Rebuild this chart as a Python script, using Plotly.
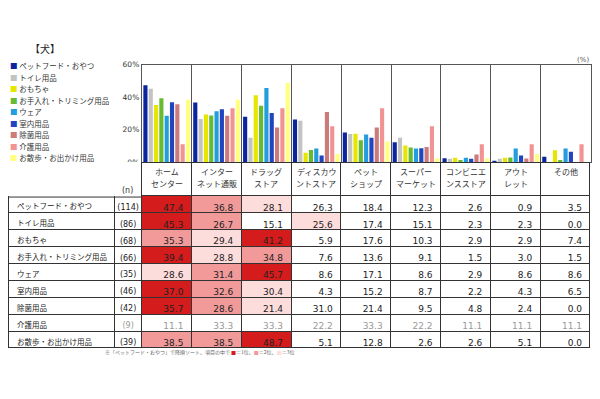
import plotly.graph_objects as go

# the page body has an 8px margin, so the figure is drawn 8px in from the window corner
OFF = 8
W, H = 584, 383

title_text = "【犬】"
channels = ["ホームセンター", "インターネット通販", "ドラッグストア", "ディスカウントストア",
            "ペットショップ", "スーパーマーケット", "コンビニエンスストア", "アウトレット", "その他"]
header_line1 = ["ホーム", "インター", "ドラッグ", "ディスカウ", "ペット", "スーパー", "コンビニエ", "アウト", "その他"]
header_line2 = ["センター", "ネット通販", "ストア", "ントストア", "ショップ", "マーケット", "ンスストア", "レット", ""]
items = ["ペットフード・おやつ", "トイレ用品", "おもちゃ", "お手入れ・トリミング用品", "ウェア",
         "室内用品", "除菌用品", "介護用品", "お散歩・お出かけ用品"]
n_values = [114, 86, 68, 66, 35, 46, 42, 9, 39]

pet_food = [47.4, 36.8, 28.1, 26.3, 18.4, 12.3, 2.6, 0.9, 3.5]
toilet = [45.3, 26.7, 15.1, 25.6, 17.4, 15.1, 2.3, 2.3, 0.0]
toys = [35.3, 29.4, 41.2, 5.9, 17.6, 10.3, 2.9, 2.9, 7.4]
grooming = [39.4, 28.8, 34.8, 7.6, 13.6, 9.1, 1.5, 3.0, 1.5]
wear = [28.6, 31.4, 45.7, 8.6, 17.1, 8.6, 2.9, 8.6, 8.6]
indoor = [37.0, 32.6, 30.4, 4.3, 15.2, 8.7, 2.2, 4.3, 6.5]
sanitize = [35.7, 28.6, 21.4, 31.0, 21.4, 9.5, 4.8, 2.4, 0.0]
care = [11.1, 33.3, 33.3, 22.2, 33.3, 22.2, 11.1, 11.1, 11.1]
walk = [38.5, 38.5, 48.7, 5.1, 12.8, 2.6, 2.6, 5.1, 0.0]
rows = [pet_food, toilet, toys, grooming, wear, indoor, sanitize, care, walk]

# highlight rank shown in the table (0 = none)
rank_pet_food = [1, 2, 3, 0, 0, 0, 0, 0, 0]
rank_toilet = [1, 2, 0, 3, 0, 0, 0, 0, 0]
rank_toys = [2, 3, 1, 0, 0, 0, 0, 0, 0]
rank_grooming = [1, 3, 2, 0, 0, 0, 0, 0, 0]
rank_wear = [3, 2, 1, 0, 0, 0, 0, 0, 0]
rank_indoor = [1, 2, 3, 0, 0, 0, 0, 0, 0]
rank_sanitize = [1, 2, 3, 0, 0, 0, 0, 0, 0]
rank_care = [0, 0, 0, 0, 0, 0, 0, 0, 0]
rank_walk = [2, 2, 1, 0, 0, 0, 0, 0, 0]
ranks = [rank_pet_food, rank_toilet, rank_toys, rank_grooming, rank_wear,
         rank_indoor, rank_sanitize, rank_care, rank_walk]
small_sample = [False, False, False, False, False, False, False, True, False]

y_ticks = [0, 20, 40, 60]
y_tick_labels = ["0%", "20%", "40%", "60%"]

series_colors = ["#0b259e", "#c3c3c3", "#e6e600", "#66bb33", "#229ddd",
                 "#1f45bf", "#cc7a7a", "#f29393", "#ffff80"]
rank_colors = {0: "#ffffff", 1: "#d41c1c", 2: "#f29a9a", 3: "#fddcdc"}

FONT = "DejaVu Sans, Noto Sans CJK JP"
JFONT = "Noto Sans CJK JP"
LINE = "#333333"

PLOT_L, PLOT_R = 142, 591.5
COL_W = (PLOT_R - PLOT_L) / len(channels)


def px_x(p):
    return (p - OFF) / W


def px_y(p):
    return 1 - (p - OFF) / H


fig = go.Figure()

for name, vals, col in zip(items, rows, series_colors):
    fig.add_trace(go.Bar(x=channels, y=vals, name=name, marker_color=col,
                         marker_line_width=0, showlegend=False,
                         xaxis="x", yaxis="y"))

# table
n_text = ["(%d)" % n for n in n_values]
cell_values = [items, n_text] + [[f"{r[j]:.1f}" for r in rows] for j in range(len(channels))]
fill_cols = [["#ffffff"] * len(items), ["#ffffff"] * len(items)] + \
    [[rank_colors[ranks[i][j]] for i in range(len(items))] for j in range(len(channels))]
font_cols = [["#222222"] * len(items), ["#999999" if s else "#222222" for s in small_sample]] + \
    [["#999999" if small_sample[i] else "#222222" for i in range(len(items))] for j in range(len(channels))]

TABLE_L = 9
TABLE_T, TABLE_B = 162.5, 360
HEADER_H = 33
fig.add_trace(go.Table(
    domain=dict(x=[px_x(TABLE_L), px_x(PLOT_R)], y=[px_y(TABLE_B), px_y(TABLE_T)]),
    columnwidth=[106, 27] + [50] * len(channels),
    header=dict(values=[""] * (len(channels) + 2),
                height=HEADER_H,
                fill_color="white",
                line=dict(color=["white", "white"] + [LINE] * len(channels), width=1)),
    cells=dict(values=cell_values,
               align=["left", "center"] + ["right"] * len(channels),
               height=16.9,
               fill_color=fill_cols,
               line=dict(color=LINE, width=1),
               font=dict(family=[JFONT, FONT] + [FONT] * len(channels),
                         size=[7.5, 8] + [9] * len(channels), color=font_cols)),
))

# top border of the row-label part of the table
fig.add_shape(type="line", xref="paper", yref="paper",
              x0=px_x(TABLE_L), x1=px_x(PLOT_L), y0=px_y(TABLE_T + HEADER_H + 2), y1=px_y(TABLE_T + HEADER_H + 2),
              line=dict(color=LINE, width=1))

# column headers
for j in range(len(channels)):
    cx = px_x(PLOT_L + COL_W * (j + 0.5))
    for txt, yy in ((header_line1[j], 171), (header_line2[j], 184)):
        if txt:
            fig.add_annotation(x=cx, y=px_y(yy), xref="paper", yref="paper", showarrow=False,
                               xanchor="center", yanchor="middle", text=txt,
                               font=dict(family=JFONT, size=8, color="#333333"))
fig.add_annotation(x=px_x(128), y=px_y(191), xref="paper", yref="paper", showarrow=False,
                   xanchor="center", yanchor="middle", text="(n)",
                   font=dict(family=FONT, size=8, color="#333333"))

# legend as annotations
for i, (name, col) in enumerate(zip(items, series_colors)):
    fig.add_annotation(x=px_x(8), y=px_y(63 + i * 11.75), xref="paper", yref="paper",
                       xanchor="left", yanchor="middle", showarrow=False,
                       text=f"<span style='color:{col}'>■</span> {name}",
                       font=dict(family=JFONT, size=7.5, color="#333333"))

fig.add_annotation(x=px_x(45), y=px_y(45), xref="paper", yref="paper", showarrow=False,
                   xanchor="center", yanchor="middle",
                   text=title_text, font=dict(family=JFONT, size=10, color="#222222"))
fig.add_annotation(x=px_x(592), y=px_y(57), xref="paper", yref="paper", showarrow=False,
                   xanchor="right", yanchor="middle",
                   text="(%)", font=dict(family=FONT, size=7, color="#555555"))
fig.add_annotation(x=px_x(296), y=px_y(356), xref="paper", yref="paper", showarrow=False,
                   xanchor="right", yanchor="middle",
                   text="※「ペットフード・おやつ」で降順ソート、項目の中で "
                        f"<span style='color:{rank_colors[1]}'>■</span>＝1位、"
                        f"<span style='color:{rank_colors[2]}'>■</span>＝2位、"
                        f"<span style='color:{rank_colors[3]}'>■</span>＝3位",
                   font=dict(family=JFONT, size=5, color="#666666"))

fig.update_layout(
    width=W, height=H, margin=dict(l=0, r=0, t=0, b=0),
    paper_bgcolor="white", plot_bgcolor="white",
    barmode="group", bargap=0.04, bargroupgap=0.22,
    xaxis=dict(domain=[px_x(PLOT_L), px_x(PLOT_R)], type="category", categoryorder="array",
               categoryarray=channels, tickson="boundaries", showgrid=True,
               gridcolor="#555555", gridwidth=1, showticklabels=False, ticks="",
               showline=True, linecolor="#555555", mirror=True, zeroline=False),
    yaxis=dict(domain=[px_y(162), px_y(62)], range=[0, 60], tickmode="array",
               tickvals=y_ticks, ticktext=y_tick_labels,
               showgrid=False, showline=True, linecolor="#555555",
               mirror=True, zeroline=False, ticks="",
               tickfont=dict(family=FONT, size=7.5, color="#333333")),
    font=dict(family=FONT),
)

fig.write_html("out.html")
